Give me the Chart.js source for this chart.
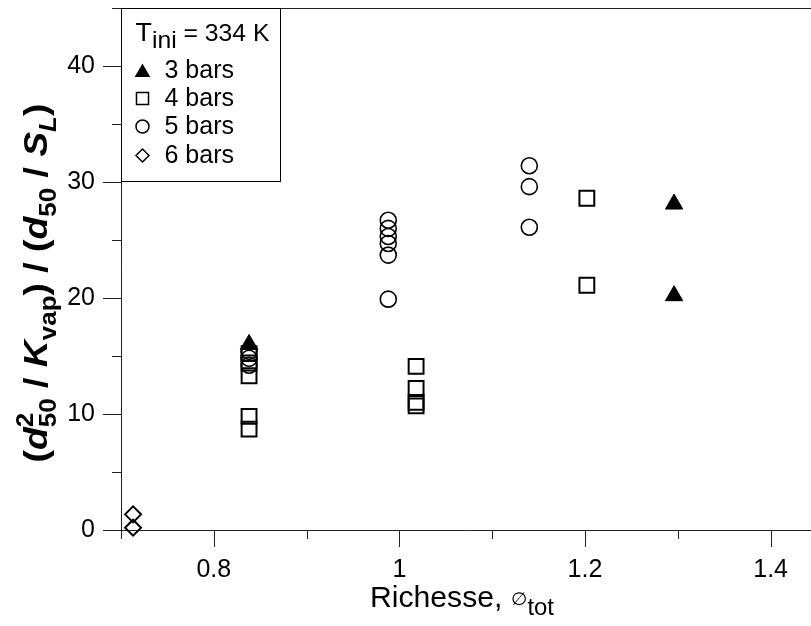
<!DOCTYPE html>
<html>
<head>
<meta charset="utf-8">
<script src="https://cdn.jsdelivr.net/npm/chart.js@4.4.0/dist/chart.umd.min.js"></script>
<style>
  html, body { margin: 0; padding: 0; background: #fff; overflow: hidden; }
  #wrap { width: 811px; height: 626px; overflow: hidden; position: relative; }
  canvas { position: absolute; left: 0; top: 0; }
</style>
</head>
<body>
<div id="wrap"><canvas id="chart" width="817" height="626"></canvas></div>
<script>
const FONT = '"Liberation Sans", Arial, sans-serif';

// data
const X_3BARS = [0.838, 1.296, 1.296];
const Y_3BARS = [16.0, 28.1, 20.2];
const X_4BARS = [0.838, 0.838, 0.838, 0.838, 0.838, 1.018, 1.018, 1.018, 1.018, 1.202, 1.202];
const Y_4BARS = [15.2, 14.4, 13.3, 9.8, 8.7, 14.1, 12.2, 11.0, 10.7, 28.6, 21.1];
const X_5BARS = [0.838, 0.838, 0.838, 0.988, 0.988, 0.988, 0.988, 0.988, 0.988, 1.14, 1.14, 1.14];
const Y_5BARS = [15.4, 14.8, 14.2, 26.7, 26.0, 25.3, 24.7, 23.7, 19.9, 31.4, 29.6, 26.1];
const X_6BARS = [0.713, 0.713];
const Y_6BARS = [1.35, 0.2];

const X_TICKS = [0.7, 0.8, 0.9, 1.0, 1.1, 1.2, 1.3, 1.4];
const X_LABELS = ['', '0.8', '', '1', '', '1.2', '', '1.4'];
const Y_TICKS = [0, 5, 10, 15, 20, 25, 30, 35, 40, 45];
const Y_LABELS = ['0', '', '10', '', '20', '', '30', '', '40', ''];

const SERIES_NAMES = ['3 bars', '4 bars', '5 bars', '6 bars'];

function pts(xs, ys) {
  return xs.map((x, i) => ({ x, y: ys[i] }));
}

const datasets = [
  { label: SERIES_NAMES[0], data: pts(X_3BARS, Y_3BARS), pointStyle: 'triangle', pointRadius: 10,
    backgroundColor: '#000', borderColor: '#000', borderWidth: 1 },
  { label: SERIES_NAMES[1], data: pts(X_4BARS, Y_4BARS), pointStyle: 'rect', pointRadius: 10.5,
    backgroundColor: 'rgba(0,0,0,0)', borderColor: '#000', borderWidth: 2 },
  { label: SERIES_NAMES[2], data: pts(X_5BARS, Y_5BARS), pointStyle: 'circle', pointRadius: 8,
    backgroundColor: 'rgba(0,0,0,0)', borderColor: '#000', borderWidth: 1.6 },
  { label: SERIES_NAMES[3], data: pts(X_6BARS, Y_6BARS), pointStyle: 'rectRot', pointRadius: 8,
    backgroundColor: 'rgba(0,0,0,0)', borderColor: '#000', borderWidth: 2 },
];
datasets.forEach(d => { d.clip = false; d.pointHoverRadius = d.pointRadius; });

// draws a run of text pieces (sub/superscripts) centred on cx, baseline cy;
// stretch widens the glyphs along the text direction
function drawRich(ctx, parts, cx, cy, rotate, stretch = 1) {
  let total = 0;
  parts.forEach(p => {
    ctx.font = p.font;
    p.w = p.adv === 0 ? 0 : ctx.measureText(p.t).width;
    total += p.w;
  });
  ctx.save();
  ctx.translate(cx, cy);
  if (rotate) ctx.rotate(-Math.PI / 2);
  ctx.scale(stretch, 1);
  ctx.fillStyle = '#000';
  ctx.textBaseline = 'alphabetic';
  ctx.textAlign = 'left';
  let x = -total / 2;
  parts.forEach(p => {
    ctx.font = p.font;
    ctx.fillText(p.t, x, p.dy || 0);
    x += p.w;
  });
  ctx.restore();
}

const decorations = {
  id: 'decorations',
  afterDatasetsDraw(chart) {
    const { ctx, chartArea: ca, scales: { x, y } } = chart;
    ctx.save();
    ctx.strokeStyle = '#222';
    ctx.lineWidth = 1;
    ctx.beginPath();
    // top frame line
    ctx.moveTo(ca.left, Math.round(ca.top) + 0.5);
    ctx.lineTo(ca.right, Math.round(ca.top) + 0.5);
    X_TICKS.forEach((v, i) => {
      const px = Math.round(x.getPixelForValue(v)) + 0.5;
      const len = X_LABELS[i] ? 17 : 9;
      ctx.moveTo(px, ca.bottom);
      ctx.lineTo(px, ca.bottom + len);
    });
    Y_TICKS.forEach((v, i) => {
      const py = Math.round(y.getPixelForValue(v)) + 0.5;
      const len = Y_LABELS[i] ? 18 : 9;
      ctx.moveTo(ca.left, py);
      ctx.lineTo(ca.left - len, py);
    });
    ctx.stroke();

    // legend box in the top-left corner
    const bx = Math.round(ca.left) + 0.5, by = Math.round(ca.top) + 0.5;
    const bw = 159, bh = 173;
    ctx.fillStyle = '#fff';
    ctx.fillRect(bx, by, bw, bh);
    ctx.strokeStyle = '#000';
    ctx.strokeRect(bx, by, bw, bh);

    drawRich(ctx, [
      { t: 'T', font: `26px ${FONT}` },
      { t: 'ini', font: `24px ${FONT}`, dy: 7 },
      { t: ' = 334 K', font: `24px ${FONT}` },
    ], bx + 81, by + 32, false, 1.03);

    const rowY = [62, 90, 118, 147];
    const legendRadius = [7.5, 8.5, 6.5, 6.5];
    chart.data.datasets.forEach((ds, i) => {
      const cy = by + rowY[i];
      ctx.fillStyle = ds.backgroundColor;
      ctx.strokeStyle = ds.borderColor;
      ctx.lineWidth = 1.5;
      Chart.helpers.drawPoint(ctx, {
        pointStyle: ds.pointStyle, radius: legendRadius[i], rotation: 0,
        borderWidth: 1.5,
      }, bx + 21, cy + (ds.pointStyle === 'triangle' ? 2 : 0));
      ctx.fillStyle = '#000';
      ctx.font = `25px ${FONT}`;
      ctx.textBaseline = 'middle';
      ctx.textAlign = 'left';
      ctx.fillText(ds.label, bx + 43, cy + 1);
    });

    // axis titles with sub / superscripts
    const B = `bold 33px ${FONT}`, BI = `italic bold 33px ${FONT}`;
    const S = `bold 23px ${FONT}`, SI = `italic bold 23px ${FONT}`;
    drawRich(ctx, [
      { t: '(', font: B }, { t: 'd', font: BI },
      { t: '2', font: S, dy: -14, adv: 0 }, { t: '50', font: S, dy: 9 },
      { t: ' / ', font: B }, { t: 'K', font: BI }, { t: 'vap', font: S, dy: 9 },
      { t: ') / (', font: B }, { t: 'd', font: BI }, { t: '50', font: S, dy: 9 },
      { t: ' / ', font: B }, { t: 'S', font: BI }, { t: 'L', font: SI, dy: 9 },
      { t: ')', font: B },
    ], 47, 283, true, 1.13);

    drawRich(ctx, [
      { t: 'Richesse, ', font: `29px ${FONT}` },
      { t: '\u2205', font: `18px ${FONT}`, dy: -2 },
      { t: 'tot', font: `23px ${FONT}`, dy: 8 },
    ], 462, 607, false, 1.04);
    ctx.restore();
  },
};

function zeroPad(s) {
  s.paddingTop = 0; s.paddingBottom = 0; s.paddingLeft = 0; s.paddingRight = 0;
}

new Chart(document.getElementById('chart'), {
  type: 'scatter',
  data: { datasets },
  plugins: [decorations],
  options: {
    responsive: false,
    devicePixelRatio: 1,
    animation: false,
    events: [],
    layout: { autoPadding: false, padding: { top: 8, left: 0, right: 0, bottom: 0 } },
    plugins: { legend: { display: false }, tooltip: { enabled: false } },
    scales: {
      x: {
        type: 'linear', min: 0.7, max: 1.45,
        afterBuildTicks: s => { s.ticks = X_TICKS.map(v => ({ value: v })); },
        afterFit: s => { s.height = 96; zeroPad(s); },
        grid: { display: false, drawTicks: false },
        border: { display: true, color: '#222', width: 1 },
        ticks: {
          color: '#000', font: { family: FONT, size: 25 }, padding: 25, maxRotation: 0, autoSkip: false,
          callback: (v, i) => X_LABELS[i],
        },
      },
      y: {
        type: 'linear', min: 0, max: 45,
        afterBuildTicks: s => { s.ticks = Y_TICKS.map(v => ({ value: v })); },
        afterFit: s => { s.width = 121; zeroPad(s); },
        grid: { display: false, drawTicks: false },
        border: { display: true, color: '#222', width: 1 },
        ticks: {
          color: '#000', font: { family: FONT, size: 25 }, padding: 26, autoSkip: false,
          callback: (v, i) => Y_LABELS[i],
        },
      },
    },
  },
});
</script>
</body>
</html>
